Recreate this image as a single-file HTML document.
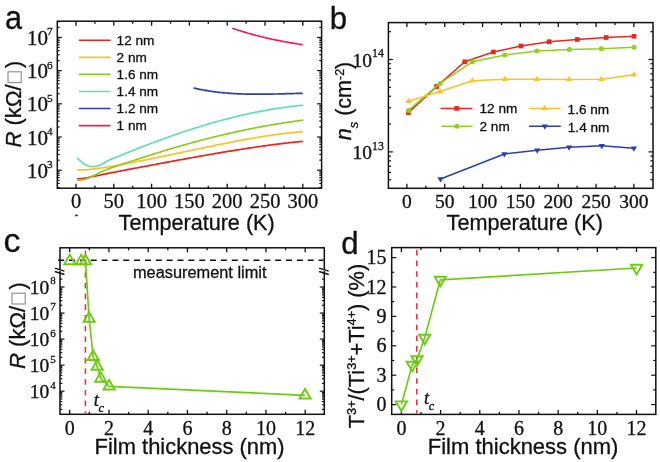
<!DOCTYPE html>
<html><head><meta charset="utf-8"><style>
html,body{margin:0;padding:0;background:#fff;width:660px;height:462px;overflow:hidden}
svg{display:block;filter:blur(0.35px)}
text{fill:#111;stroke:#111;stroke-width:0.3px}
</style></head><body>
<svg width="660" height="462" viewBox="0 0 660 462">
<rect width="660" height="462" fill="#fff"/>
<text transform="translate(4.9,28.9) scale(0.93,1)" style="font-family:'Liberation Sans',sans-serif;font-size:33px">a</text>
<rect x="57.3" y="21.2" width="264.30" height="167.00" fill="none" stroke="#111" stroke-width="1.5"/>
<line x1="76.00" y1="188.2" x2="76.00" y2="183.7" stroke="#111" stroke-width="1.3"/>
<line x1="76.00" y1="21.2" x2="76.00" y2="25.7" stroke="#111" stroke-width="1.3"/>
<line x1="113.80" y1="188.2" x2="113.80" y2="183.7" stroke="#111" stroke-width="1.3"/>
<line x1="113.80" y1="21.2" x2="113.80" y2="25.7" stroke="#111" stroke-width="1.3"/>
<line x1="151.60" y1="188.2" x2="151.60" y2="183.7" stroke="#111" stroke-width="1.3"/>
<line x1="151.60" y1="21.2" x2="151.60" y2="25.7" stroke="#111" stroke-width="1.3"/>
<line x1="189.40" y1="188.2" x2="189.40" y2="183.7" stroke="#111" stroke-width="1.3"/>
<line x1="189.40" y1="21.2" x2="189.40" y2="25.7" stroke="#111" stroke-width="1.3"/>
<line x1="227.20" y1="188.2" x2="227.20" y2="183.7" stroke="#111" stroke-width="1.3"/>
<line x1="227.20" y1="21.2" x2="227.20" y2="25.7" stroke="#111" stroke-width="1.3"/>
<line x1="265.00" y1="188.2" x2="265.00" y2="183.7" stroke="#111" stroke-width="1.3"/>
<line x1="265.00" y1="21.2" x2="265.00" y2="25.7" stroke="#111" stroke-width="1.3"/>
<line x1="302.80" y1="188.2" x2="302.80" y2="183.7" stroke="#111" stroke-width="1.3"/>
<line x1="302.80" y1="21.2" x2="302.80" y2="25.7" stroke="#111" stroke-width="1.3"/>
<line x1="94.90" y1="188.2" x2="94.90" y2="185.7" stroke="#111" stroke-width="1.3"/>
<line x1="94.90" y1="21.2" x2="94.90" y2="23.7" stroke="#111" stroke-width="1.3"/>
<line x1="132.70" y1="188.2" x2="132.70" y2="185.7" stroke="#111" stroke-width="1.3"/>
<line x1="132.70" y1="21.2" x2="132.70" y2="23.7" stroke="#111" stroke-width="1.3"/>
<line x1="170.50" y1="188.2" x2="170.50" y2="185.7" stroke="#111" stroke-width="1.3"/>
<line x1="170.50" y1="21.2" x2="170.50" y2="23.7" stroke="#111" stroke-width="1.3"/>
<line x1="208.30" y1="188.2" x2="208.30" y2="185.7" stroke="#111" stroke-width="1.3"/>
<line x1="208.30" y1="21.2" x2="208.30" y2="23.7" stroke="#111" stroke-width="1.3"/>
<line x1="246.10" y1="188.2" x2="246.10" y2="185.7" stroke="#111" stroke-width="1.3"/>
<line x1="246.10" y1="21.2" x2="246.10" y2="23.7" stroke="#111" stroke-width="1.3"/>
<line x1="283.90" y1="188.2" x2="283.90" y2="185.7" stroke="#111" stroke-width="1.3"/>
<line x1="283.90" y1="21.2" x2="283.90" y2="23.7" stroke="#111" stroke-width="1.3"/>
<line x1="57.3" y1="170.20" x2="61.8" y2="170.20" stroke="#111" stroke-width="1.2"/>
<line x1="321.6" y1="170.20" x2="317.1" y2="170.20" stroke="#111" stroke-width="1.2"/>
<line x1="57.3" y1="137.00" x2="61.8" y2="137.00" stroke="#111" stroke-width="1.2"/>
<line x1="321.6" y1="137.00" x2="317.1" y2="137.00" stroke="#111" stroke-width="1.2"/>
<line x1="57.3" y1="103.80" x2="61.8" y2="103.80" stroke="#111" stroke-width="1.2"/>
<line x1="321.6" y1="103.80" x2="317.1" y2="103.80" stroke="#111" stroke-width="1.2"/>
<line x1="57.3" y1="70.60" x2="61.8" y2="70.60" stroke="#111" stroke-width="1.2"/>
<line x1="321.6" y1="70.60" x2="317.1" y2="70.60" stroke="#111" stroke-width="1.2"/>
<line x1="57.3" y1="37.40" x2="61.8" y2="37.40" stroke="#111" stroke-width="1.2"/>
<line x1="321.6" y1="37.40" x2="317.1" y2="37.40" stroke="#111" stroke-width="1.2"/>
<line x1="57.3" y1="187.56" x2="59.599999999999994" y2="187.56" stroke="#111" stroke-width="1.2"/>
<line x1="321.6" y1="187.56" x2="319.3" y2="187.56" stroke="#111" stroke-width="1.2"/>
<line x1="57.3" y1="183.41" x2="59.599999999999994" y2="183.41" stroke="#111" stroke-width="1.2"/>
<line x1="321.6" y1="183.41" x2="319.3" y2="183.41" stroke="#111" stroke-width="1.2"/>
<line x1="57.3" y1="180.19" x2="59.599999999999994" y2="180.19" stroke="#111" stroke-width="1.2"/>
<line x1="321.6" y1="180.19" x2="319.3" y2="180.19" stroke="#111" stroke-width="1.2"/>
<line x1="57.3" y1="177.57" x2="59.599999999999994" y2="177.57" stroke="#111" stroke-width="1.2"/>
<line x1="321.6" y1="177.57" x2="319.3" y2="177.57" stroke="#111" stroke-width="1.2"/>
<line x1="57.3" y1="175.34" x2="59.599999999999994" y2="175.34" stroke="#111" stroke-width="1.2"/>
<line x1="321.6" y1="175.34" x2="319.3" y2="175.34" stroke="#111" stroke-width="1.2"/>
<line x1="57.3" y1="173.42" x2="59.599999999999994" y2="173.42" stroke="#111" stroke-width="1.2"/>
<line x1="321.6" y1="173.42" x2="319.3" y2="173.42" stroke="#111" stroke-width="1.2"/>
<line x1="57.3" y1="171.72" x2="59.599999999999994" y2="171.72" stroke="#111" stroke-width="1.2"/>
<line x1="321.6" y1="171.72" x2="319.3" y2="171.72" stroke="#111" stroke-width="1.2"/>
<line x1="57.3" y1="160.21" x2="59.599999999999994" y2="160.21" stroke="#111" stroke-width="1.2"/>
<line x1="321.6" y1="160.21" x2="319.3" y2="160.21" stroke="#111" stroke-width="1.2"/>
<line x1="57.3" y1="154.36" x2="59.599999999999994" y2="154.36" stroke="#111" stroke-width="1.2"/>
<line x1="321.6" y1="154.36" x2="319.3" y2="154.36" stroke="#111" stroke-width="1.2"/>
<line x1="57.3" y1="150.21" x2="59.599999999999994" y2="150.21" stroke="#111" stroke-width="1.2"/>
<line x1="321.6" y1="150.21" x2="319.3" y2="150.21" stroke="#111" stroke-width="1.2"/>
<line x1="57.3" y1="146.99" x2="59.599999999999994" y2="146.99" stroke="#111" stroke-width="1.2"/>
<line x1="321.6" y1="146.99" x2="319.3" y2="146.99" stroke="#111" stroke-width="1.2"/>
<line x1="57.3" y1="144.37" x2="59.599999999999994" y2="144.37" stroke="#111" stroke-width="1.2"/>
<line x1="321.6" y1="144.37" x2="319.3" y2="144.37" stroke="#111" stroke-width="1.2"/>
<line x1="57.3" y1="142.14" x2="59.599999999999994" y2="142.14" stroke="#111" stroke-width="1.2"/>
<line x1="321.6" y1="142.14" x2="319.3" y2="142.14" stroke="#111" stroke-width="1.2"/>
<line x1="57.3" y1="140.22" x2="59.599999999999994" y2="140.22" stroke="#111" stroke-width="1.2"/>
<line x1="321.6" y1="140.22" x2="319.3" y2="140.22" stroke="#111" stroke-width="1.2"/>
<line x1="57.3" y1="138.52" x2="59.599999999999994" y2="138.52" stroke="#111" stroke-width="1.2"/>
<line x1="321.6" y1="138.52" x2="319.3" y2="138.52" stroke="#111" stroke-width="1.2"/>
<line x1="57.3" y1="127.01" x2="59.599999999999994" y2="127.01" stroke="#111" stroke-width="1.2"/>
<line x1="321.6" y1="127.01" x2="319.3" y2="127.01" stroke="#111" stroke-width="1.2"/>
<line x1="57.3" y1="121.16" x2="59.599999999999994" y2="121.16" stroke="#111" stroke-width="1.2"/>
<line x1="321.6" y1="121.16" x2="319.3" y2="121.16" stroke="#111" stroke-width="1.2"/>
<line x1="57.3" y1="117.01" x2="59.599999999999994" y2="117.01" stroke="#111" stroke-width="1.2"/>
<line x1="321.6" y1="117.01" x2="319.3" y2="117.01" stroke="#111" stroke-width="1.2"/>
<line x1="57.3" y1="113.79" x2="59.599999999999994" y2="113.79" stroke="#111" stroke-width="1.2"/>
<line x1="321.6" y1="113.79" x2="319.3" y2="113.79" stroke="#111" stroke-width="1.2"/>
<line x1="57.3" y1="111.17" x2="59.599999999999994" y2="111.17" stroke="#111" stroke-width="1.2"/>
<line x1="321.6" y1="111.17" x2="319.3" y2="111.17" stroke="#111" stroke-width="1.2"/>
<line x1="57.3" y1="108.94" x2="59.599999999999994" y2="108.94" stroke="#111" stroke-width="1.2"/>
<line x1="321.6" y1="108.94" x2="319.3" y2="108.94" stroke="#111" stroke-width="1.2"/>
<line x1="57.3" y1="107.02" x2="59.599999999999994" y2="107.02" stroke="#111" stroke-width="1.2"/>
<line x1="321.6" y1="107.02" x2="319.3" y2="107.02" stroke="#111" stroke-width="1.2"/>
<line x1="57.3" y1="105.32" x2="59.599999999999994" y2="105.32" stroke="#111" stroke-width="1.2"/>
<line x1="321.6" y1="105.32" x2="319.3" y2="105.32" stroke="#111" stroke-width="1.2"/>
<line x1="57.3" y1="93.81" x2="59.599999999999994" y2="93.81" stroke="#111" stroke-width="1.2"/>
<line x1="321.6" y1="93.81" x2="319.3" y2="93.81" stroke="#111" stroke-width="1.2"/>
<line x1="57.3" y1="87.96" x2="59.599999999999994" y2="87.96" stroke="#111" stroke-width="1.2"/>
<line x1="321.6" y1="87.96" x2="319.3" y2="87.96" stroke="#111" stroke-width="1.2"/>
<line x1="57.3" y1="83.81" x2="59.599999999999994" y2="83.81" stroke="#111" stroke-width="1.2"/>
<line x1="321.6" y1="83.81" x2="319.3" y2="83.81" stroke="#111" stroke-width="1.2"/>
<line x1="57.3" y1="80.59" x2="59.599999999999994" y2="80.59" stroke="#111" stroke-width="1.2"/>
<line x1="321.6" y1="80.59" x2="319.3" y2="80.59" stroke="#111" stroke-width="1.2"/>
<line x1="57.3" y1="77.97" x2="59.599999999999994" y2="77.97" stroke="#111" stroke-width="1.2"/>
<line x1="321.6" y1="77.97" x2="319.3" y2="77.97" stroke="#111" stroke-width="1.2"/>
<line x1="57.3" y1="75.74" x2="59.599999999999994" y2="75.74" stroke="#111" stroke-width="1.2"/>
<line x1="321.6" y1="75.74" x2="319.3" y2="75.74" stroke="#111" stroke-width="1.2"/>
<line x1="57.3" y1="73.82" x2="59.599999999999994" y2="73.82" stroke="#111" stroke-width="1.2"/>
<line x1="321.6" y1="73.82" x2="319.3" y2="73.82" stroke="#111" stroke-width="1.2"/>
<line x1="57.3" y1="72.12" x2="59.599999999999994" y2="72.12" stroke="#111" stroke-width="1.2"/>
<line x1="321.6" y1="72.12" x2="319.3" y2="72.12" stroke="#111" stroke-width="1.2"/>
<line x1="57.3" y1="60.61" x2="59.599999999999994" y2="60.61" stroke="#111" stroke-width="1.2"/>
<line x1="321.6" y1="60.61" x2="319.3" y2="60.61" stroke="#111" stroke-width="1.2"/>
<line x1="57.3" y1="54.76" x2="59.599999999999994" y2="54.76" stroke="#111" stroke-width="1.2"/>
<line x1="321.6" y1="54.76" x2="319.3" y2="54.76" stroke="#111" stroke-width="1.2"/>
<line x1="57.3" y1="50.61" x2="59.599999999999994" y2="50.61" stroke="#111" stroke-width="1.2"/>
<line x1="321.6" y1="50.61" x2="319.3" y2="50.61" stroke="#111" stroke-width="1.2"/>
<line x1="57.3" y1="47.39" x2="59.599999999999994" y2="47.39" stroke="#111" stroke-width="1.2"/>
<line x1="321.6" y1="47.39" x2="319.3" y2="47.39" stroke="#111" stroke-width="1.2"/>
<line x1="57.3" y1="44.77" x2="59.599999999999994" y2="44.77" stroke="#111" stroke-width="1.2"/>
<line x1="321.6" y1="44.77" x2="319.3" y2="44.77" stroke="#111" stroke-width="1.2"/>
<line x1="57.3" y1="42.54" x2="59.599999999999994" y2="42.54" stroke="#111" stroke-width="1.2"/>
<line x1="321.6" y1="42.54" x2="319.3" y2="42.54" stroke="#111" stroke-width="1.2"/>
<line x1="57.3" y1="40.62" x2="59.599999999999994" y2="40.62" stroke="#111" stroke-width="1.2"/>
<line x1="321.6" y1="40.62" x2="319.3" y2="40.62" stroke="#111" stroke-width="1.2"/>
<line x1="57.3" y1="38.92" x2="59.599999999999994" y2="38.92" stroke="#111" stroke-width="1.2"/>
<line x1="321.6" y1="38.92" x2="319.3" y2="38.92" stroke="#111" stroke-width="1.2"/>
<line x1="57.3" y1="27.41" x2="59.599999999999994" y2="27.41" stroke="#111" stroke-width="1.2"/>
<line x1="321.6" y1="27.41" x2="319.3" y2="27.41" stroke="#111" stroke-width="1.2"/>
<line x1="57.3" y1="21.56" x2="59.599999999999994" y2="21.56" stroke="#111" stroke-width="1.2"/>
<line x1="321.6" y1="21.56" x2="319.3" y2="21.56" stroke="#111" stroke-width="1.2"/>
<text x="48.00" y="177.70" style="font-family:'Liberation Serif',serif;font-size:21px" text-anchor="end">10</text>
<text x="46.90" y="168.20" style="font-family:'Liberation Serif',serif;font-size:11.2px">3</text>
<text x="48.00" y="144.50" style="font-family:'Liberation Serif',serif;font-size:21px" text-anchor="end">10</text>
<text x="46.90" y="135.00" style="font-family:'Liberation Serif',serif;font-size:11.2px">4</text>
<text x="48.00" y="111.30" style="font-family:'Liberation Serif',serif;font-size:21px" text-anchor="end">10</text>
<text x="46.90" y="101.80" style="font-family:'Liberation Serif',serif;font-size:11.2px">5</text>
<text x="48.00" y="78.10" style="font-family:'Liberation Serif',serif;font-size:21px" text-anchor="end">10</text>
<text x="46.90" y="68.60" style="font-family:'Liberation Serif',serif;font-size:11.2px">6</text>
<text x="48.00" y="44.90" style="font-family:'Liberation Serif',serif;font-size:21px" text-anchor="end">10</text>
<text x="46.90" y="35.40" style="font-family:'Liberation Serif',serif;font-size:11.2px">7</text>
<text x="76.00" y="207.6" style="font-family:'Liberation Serif',serif;font-size:20.5px" text-anchor="middle" >0</text>
<text x="113.80" y="207.6" style="font-family:'Liberation Serif',serif;font-size:20.5px" text-anchor="middle" >50</text>
<text x="151.60" y="207.6" style="font-family:'Liberation Serif',serif;font-size:20.5px" text-anchor="middle" >100</text>
<text x="189.40" y="207.6" style="font-family:'Liberation Serif',serif;font-size:20.5px" text-anchor="middle" >150</text>
<text x="227.20" y="207.6" style="font-family:'Liberation Serif',serif;font-size:20.5px" text-anchor="middle" >200</text>
<text x="265.00" y="207.6" style="font-family:'Liberation Serif',serif;font-size:20.5px" text-anchor="middle" >250</text>
<text x="302.80" y="207.6" style="font-family:'Liberation Serif',serif;font-size:20.5px" text-anchor="middle" >300</text>
<text x="118.6" y="230.3" style="font-family:'Liberation Sans',sans-serif;font-size:21.9px" textLength="156.1" lengthAdjust="spacingAndGlyphs">Temperature (K)</text>
<g transform="translate(21.3,147.6) rotate(-90)"><text x="0" y="0" style="font-family:'Liberation Sans',sans-serif;font-size:21.3px" textLength="63.2" lengthAdjust="spacingAndGlyphs"><tspan font-style="italic">R</tspan> (kΩ/</text><text x="79.5" y="0" style="font-family:'Liberation Sans',sans-serif;font-size:21.5px">)</text></g>
<rect x="8.0" y="71.8" width="13.2" height="10.8" fill="none" stroke="#8a8a8a" stroke-width="1.1"/>
<line x1="78.8" y1="40.30" x2="110.5" y2="40.30" stroke="#e8251f" stroke-width="1.6"/>
<text x="116.6" y="45.05" style="font-family:'Liberation Sans',sans-serif;font-size:13.6px" text-anchor="start" >12 nm</text>
<line x1="78.8" y1="57.36" x2="110.5" y2="57.36" stroke="#fcc02a" stroke-width="1.6"/>
<text x="116.6" y="62.11" style="font-family:'Liberation Sans',sans-serif;font-size:13.6px" text-anchor="start" >2 nm</text>
<line x1="78.8" y1="74.42" x2="110.5" y2="74.42" stroke="#8ccb1e" stroke-width="1.6"/>
<text x="116.6" y="79.17" style="font-family:'Liberation Sans',sans-serif;font-size:13.6px" text-anchor="start" >1.6 nm</text>
<line x1="78.8" y1="91.48" x2="110.5" y2="91.48" stroke="#5fdfb4" stroke-width="1.6"/>
<text x="116.6" y="96.23" style="font-family:'Liberation Sans',sans-serif;font-size:13.6px" text-anchor="start" >1.4 nm</text>
<line x1="78.8" y1="108.54" x2="110.5" y2="108.54" stroke="#2a3ea6" stroke-width="1.6"/>
<text x="116.6" y="113.29" style="font-family:'Liberation Sans',sans-serif;font-size:13.6px" text-anchor="start" >1.2 nm</text>
<line x1="78.8" y1="125.60" x2="110.5" y2="125.60" stroke="#ee1e5c" stroke-width="1.6"/>
<text x="116.6" y="130.35" style="font-family:'Liberation Sans',sans-serif;font-size:13.6px" text-anchor="start" >1 nm</text>
<polyline points="77.0,178.9 78.0,178.8 79.0,178.8 80.0,178.7 81.0,178.6 82.0,178.5 83.0,178.4 84.0,178.3 85.0,178.1 86.0,177.9 87.0,177.8 88.0,177.6 89.0,177.4 90.0,177.2 91.0,177.0 92.0,176.7 93.0,176.5 94.0,176.3 95.0,176.1 96.0,175.9 97.0,175.7 98.0,175.5 99.0,175.3 100.0,175.1 101.0,174.9 102.0,174.6 103.0,174.4 104.0,174.2 105.0,174.0 106.0,173.8 107.0,173.6 108.0,173.4 109.0,173.2 110.0,173.0 111.0,172.8 112.0,172.6 113.0,172.4 114.0,172.3 115.0,172.1 116.0,171.9 117.0,171.7 118.0,171.5 119.0,171.3 120.0,171.1 121.0,170.9 122.0,170.7 123.0,170.5 124.0,170.3 125.0,170.1 126.0,169.9 127.0,169.7 128.0,169.6 129.0,169.4 130.0,169.2 131.0,169.0 132.0,168.8 133.0,168.6 134.0,168.4 135.0,168.2 136.0,168.0 137.0,167.9 138.0,167.7 139.0,167.5 140.0,167.3 141.0,167.1 142.0,166.9 143.0,166.7 144.0,166.5 145.0,166.3 146.0,166.2 147.0,166.0 148.0,165.8 149.0,165.6 150.0,165.4 151.0,165.2 152.0,165.0 153.0,164.8 154.0,164.7 155.0,164.5 156.0,164.3 157.0,164.1 158.0,163.9 159.0,163.7 160.0,163.5 161.0,163.3 162.0,163.2 163.0,163.0 164.0,162.8 165.0,162.6 166.0,162.4 167.0,162.2 168.0,162.1 169.0,161.9 170.0,161.7 171.0,161.5 172.0,161.3 173.0,161.1 174.0,160.9 175.0,160.8 176.0,160.6 177.0,160.4 178.0,160.2 179.0,160.0 180.0,159.8 181.0,159.7 182.0,159.5 183.0,159.3 184.0,159.1 185.0,158.9 186.0,158.8 187.0,158.6 188.0,158.4 189.0,158.2 190.0,158.0 191.0,157.8 192.0,157.7 193.0,157.5 194.0,157.3 195.0,157.1 196.0,157.0 197.0,156.8 198.0,156.6 199.0,156.4 200.0,156.2 201.0,156.1 202.0,155.9 203.0,155.7 204.0,155.5 205.0,155.4 206.0,155.2 207.0,155.0 208.0,154.8 209.0,154.7 210.0,154.5 211.0,154.3 212.0,154.1 213.0,154.0 214.0,153.8 215.0,153.6 216.0,153.4 217.0,153.3 218.0,153.1 219.0,152.9 220.0,152.8 221.0,152.6 222.0,152.4 223.0,152.2 224.0,152.1 225.0,151.9 226.0,151.7 227.0,151.6 228.0,151.4 229.0,151.2 230.0,151.1 231.0,150.9 232.0,150.8 233.0,150.6 234.0,150.4 235.0,150.3 236.0,150.1 237.0,149.9 238.0,149.8 239.0,149.6 240.0,149.5 241.0,149.3 242.0,149.2 243.0,149.0 244.0,148.8 245.0,148.7 246.0,148.5 247.0,148.4 248.0,148.2 249.0,148.1 250.0,147.9 251.0,147.8 252.0,147.6 253.0,147.5 254.0,147.3 255.0,147.2 256.0,147.0 257.0,146.9 258.0,146.8 259.0,146.6 260.0,146.5 261.0,146.3 262.0,146.2 263.0,146.0 264.0,145.9 265.0,145.8 266.0,145.6 267.0,145.5 268.0,145.4 269.0,145.2 270.0,145.1 271.0,145.0 272.0,144.8 273.0,144.7 274.0,144.6 275.0,144.4 276.0,144.3 277.0,144.2 278.0,144.1 279.0,143.9 280.0,143.8 281.0,143.7 282.0,143.6 283.0,143.4 284.0,143.3 285.0,143.2 286.0,143.1 287.0,143.0 288.0,142.9 289.0,142.7 290.0,142.6 291.0,142.5 292.0,142.4 293.0,142.3 294.0,142.2 295.0,142.1 296.0,142.0 297.0,141.9 298.0,141.8 299.0,141.7 300.0,141.6 301.0,141.5 302.0,141.4 302.9,141.3" fill="none" stroke="#e8251f" stroke-width="1.7" stroke-linejoin="round" stroke-linecap="butt"/>
<polyline points="77.0,169.7 78.0,169.8 79.0,169.8 80.0,169.9 81.0,169.9 82.0,169.9 83.0,169.9 84.0,169.8 85.0,169.8 86.0,169.7 87.0,169.7 88.0,169.6 89.0,169.5 90.0,169.4 91.0,169.3 92.0,169.2 93.0,169.0 94.0,168.9 95.0,168.8 96.0,168.7 97.0,168.5 98.0,168.4 99.0,168.3 100.0,168.1 101.0,168.0 102.0,167.8 103.0,167.7 104.0,167.5 105.0,167.4 106.0,167.2 107.0,167.0 108.0,166.9 109.0,166.7 110.0,166.5 111.0,166.4 112.0,166.2 113.0,166.0 114.0,165.9 115.0,165.7 116.0,165.5 117.0,165.3 118.0,165.2 119.0,165.0 120.0,164.8 121.0,164.6 122.0,164.4 123.0,164.2 124.0,164.0 125.0,163.9 126.0,163.7 127.0,163.5 128.0,163.3 129.0,163.1 130.0,162.9 131.0,162.7 132.0,162.5 133.0,162.3 134.0,162.1 135.0,161.9 136.0,161.7 137.0,161.5 138.0,161.4 139.0,161.2 140.0,161.0 141.0,160.8 142.0,160.6 143.0,160.4 144.0,160.2 145.0,160.0 146.0,159.8 147.0,159.6 148.0,159.4 149.0,159.2 150.0,159.0 151.0,158.8 152.0,158.6 153.0,158.4 154.0,158.2 155.0,158.0 156.0,157.8 157.0,157.5 158.0,157.3 159.0,157.1 160.0,156.9 161.0,156.7 162.0,156.5 163.0,156.3 164.0,156.1 165.0,155.9 166.0,155.7 167.0,155.5 168.0,155.3 169.0,155.1 170.0,154.9 171.0,154.7 172.0,154.5 173.0,154.2 174.0,154.0 175.0,153.8 176.0,153.6 177.0,153.4 178.0,153.2 179.0,153.0 180.0,152.8 181.0,152.6 182.0,152.4 183.0,152.2 184.0,151.9 185.0,151.7 186.0,151.5 187.0,151.3 188.0,151.1 189.0,150.9 190.0,150.7 191.0,150.5 192.0,150.3 193.0,150.0 194.0,149.8 195.0,149.6 196.0,149.4 197.0,149.2 198.0,149.0 199.0,148.8 200.0,148.6 201.0,148.4 202.0,148.1 203.0,147.9 204.0,147.7 205.0,147.5 206.0,147.3 207.0,147.1 208.0,146.9 209.0,146.7 210.0,146.5 211.0,146.3 212.0,146.1 213.0,145.9 214.0,145.6 215.0,145.4 216.0,145.2 217.0,145.0 218.0,144.8 219.0,144.6 220.0,144.4 221.0,144.2 222.0,144.0 223.0,143.8 224.0,143.6 225.0,143.4 226.0,143.2 227.0,143.0 228.0,142.8 229.0,142.6 230.0,142.4 231.0,142.2 232.0,142.0 233.0,141.8 234.0,141.6 235.0,141.4 236.0,141.2 237.0,141.1 238.0,140.9 239.0,140.7 240.0,140.5 241.0,140.3 242.0,140.1 243.0,139.9 244.0,139.7 245.0,139.6 246.0,139.4 247.0,139.2 248.0,139.0 249.0,138.8 250.0,138.7 251.0,138.5 252.0,138.3 253.0,138.1 254.0,138.0 255.0,137.8 256.0,137.6 257.0,137.5 258.0,137.3 259.0,137.1 260.0,137.0 261.0,136.8 262.0,136.6 263.0,136.5 264.0,136.3 265.0,136.2 266.0,136.0 267.0,135.9 268.0,135.7 269.0,135.6 270.0,135.4 271.0,135.3 272.0,135.1 273.0,135.0 274.0,134.8 275.0,134.7 276.0,134.5 277.0,134.4 278.0,134.3 279.0,134.1 280.0,134.0 281.0,133.9 282.0,133.8 283.0,133.6 284.0,133.5 285.0,133.4 286.0,133.3 287.0,133.1 288.0,133.0 289.0,132.9 290.0,132.8 291.0,132.7 292.0,132.6 293.0,132.5 294.0,132.4 295.0,132.3 296.0,132.2 297.0,132.1 298.0,132.0 299.0,131.9 300.0,131.8 301.0,131.7 302.0,131.6 302.9,131.6" fill="none" stroke="#fcc02a" stroke-width="1.7" stroke-linejoin="round" stroke-linecap="butt"/>
<polyline points="77.0,179.9 78.0,180.0 79.0,180.1 80.0,180.1 81.0,180.0 82.0,179.9 83.0,179.7 84.0,179.5 85.0,179.2 86.0,178.9 87.0,178.5 88.0,178.1 89.0,177.7 90.0,177.3 91.0,176.8 92.0,176.3 93.0,175.9 94.0,175.4 95.0,174.9 96.0,174.4 97.0,173.9 98.0,173.4 99.0,172.9 100.0,172.5 101.0,172.0 102.0,171.5 103.0,171.1 104.0,170.6 105.0,170.2 106.0,169.8 107.0,169.4 108.0,169.0 109.0,168.7 110.0,168.3 111.0,167.9 112.0,167.6 113.0,167.3 114.0,166.9 115.0,166.6 116.0,166.2 117.0,165.9 118.0,165.6 119.0,165.3 120.0,164.9 121.0,164.6 122.0,164.3 123.0,163.9 124.0,163.6 125.0,163.3 126.0,163.0 127.0,162.6 128.0,162.3 129.0,162.0 130.0,161.6 131.0,161.3 132.0,161.0 133.0,160.7 134.0,160.3 135.0,160.0 136.0,159.7 137.0,159.4 138.0,159.0 139.0,158.7 140.0,158.4 141.0,158.1 142.0,157.7 143.0,157.4 144.0,157.1 145.0,156.8 146.0,156.5 147.0,156.1 148.0,155.8 149.0,155.5 150.0,155.2 151.0,154.9 152.0,154.6 153.0,154.2 154.0,153.9 155.0,153.6 156.0,153.3 157.0,153.0 158.0,152.7 159.0,152.4 160.0,152.1 161.0,151.7 162.0,151.4 163.0,151.1 164.0,150.8 165.0,150.5 166.0,150.2 167.0,149.9 168.0,149.6 169.0,149.3 170.0,149.0 171.0,148.7 172.0,148.4 173.0,148.1 174.0,147.8 175.0,147.5 176.0,147.2 177.0,146.9 178.0,146.7 179.0,146.4 180.0,146.1 181.0,145.8 182.0,145.5 183.0,145.2 184.0,144.9 185.0,144.6 186.0,144.4 187.0,144.1 188.0,143.8 189.0,143.5 190.0,143.3 191.0,143.0 192.0,142.7 193.0,142.4 194.0,142.2 195.0,141.9 196.0,141.6 197.0,141.3 198.0,141.1 199.0,140.8 200.0,140.6 201.0,140.3 202.0,140.0 203.0,139.8 204.0,139.5 205.0,139.2 206.0,139.0 207.0,138.7 208.0,138.5 209.0,138.2 210.0,138.0 211.0,137.7 212.0,137.5 213.0,137.2 214.0,137.0 215.0,136.7 216.0,136.5 217.0,136.2 218.0,136.0 219.0,135.8 220.0,135.5 221.0,135.3 222.0,135.0 223.0,134.8 224.0,134.6 225.0,134.3 226.0,134.1 227.0,133.9 228.0,133.6 229.0,133.4 230.0,133.2 231.0,133.0 232.0,132.7 233.0,132.5 234.0,132.3 235.0,132.1 236.0,131.9 237.0,131.6 238.0,131.4 239.0,131.2 240.0,131.0 241.0,130.8 242.0,130.6 243.0,130.3 244.0,130.1 245.0,129.9 246.0,129.7 247.0,129.5 248.0,129.3 249.0,129.1 250.0,128.9 251.0,128.7 252.0,128.5 253.0,128.3 254.0,128.1 255.0,127.9 256.0,127.7 257.0,127.5 258.0,127.3 259.0,127.2 260.0,127.0 261.0,126.8 262.0,126.6 263.0,126.4 264.0,126.2 265.0,126.0 266.0,125.9 267.0,125.7 268.0,125.5 269.0,125.3 270.0,125.1 271.0,125.0 272.0,124.8 273.0,124.6 274.0,124.5 275.0,124.3 276.0,124.1 277.0,124.0 278.0,123.8 279.0,123.6 280.0,123.5 281.0,123.3 282.0,123.1 283.0,123.0 284.0,122.8 285.0,122.7 286.0,122.5 287.0,122.4 288.0,122.2 289.0,122.1 290.0,121.9 291.0,121.8 292.0,121.6 293.0,121.5 294.0,121.3 295.0,121.2 296.0,121.0 297.0,120.9 298.0,120.8 299.0,120.6 300.0,120.5 301.0,120.4 302.0,120.2 302.9,120.1" fill="none" stroke="#8ccb1e" stroke-width="1.7" stroke-linejoin="round" stroke-linecap="butt"/>
<polyline points="77.0,157.7 78.0,158.8 79.0,159.8 80.0,160.7 81.0,161.6 82.0,162.4 83.0,163.1 84.0,163.8 85.0,164.4 86.0,164.9 87.0,165.3 88.0,165.7 89.0,166.1 90.0,166.3 91.0,166.5 92.0,166.6 93.0,166.6 94.0,166.6 95.0,166.5 96.0,166.3 97.0,166.1 98.0,165.8 99.0,165.4 100.0,165.0 101.0,164.5 102.0,164.0 103.0,163.4 104.0,162.9 105.0,162.3 106.0,161.7 107.0,161.2 108.0,160.7 109.0,160.2 110.0,159.8 111.0,159.3 112.0,158.9 113.0,158.5 114.0,158.1 115.0,157.7 116.0,157.3 117.0,156.9 118.0,156.5 119.0,156.1 120.0,155.7 121.0,155.3 122.0,154.9 123.0,154.5 124.0,154.1 125.0,153.7 126.0,153.2 127.0,152.8 128.0,152.4 129.0,152.0 130.0,151.6 131.0,151.2 132.0,150.8 133.0,150.4 134.0,150.0 135.0,149.6 136.0,149.3 137.0,148.9 138.0,148.5 139.0,148.1 140.0,147.7 141.0,147.3 142.0,146.9 143.0,146.5 144.0,146.1 145.0,145.7 146.0,145.3 147.0,145.0 148.0,144.6 149.0,144.2 150.0,143.8 151.0,143.4 152.0,143.0 153.0,142.7 154.0,142.3 155.0,141.9 156.0,141.6 157.0,141.2 158.0,140.8 159.0,140.4 160.0,140.1 161.0,139.7 162.0,139.3 163.0,139.0 164.0,138.6 165.0,138.3 166.0,137.9 167.0,137.5 168.0,137.2 169.0,136.8 170.0,136.5 171.0,136.1 172.0,135.8 173.0,135.4 174.0,135.1 175.0,134.7 176.0,134.4 177.0,134.0 178.0,133.7 179.0,133.4 180.0,133.0 181.0,132.7 182.0,132.3 183.0,132.0 184.0,131.7 185.0,131.3 186.0,131.0 187.0,130.7 188.0,130.4 189.0,130.0 190.0,129.7 191.0,129.4 192.0,129.1 193.0,128.7 194.0,128.4 195.0,128.1 196.0,127.8 197.0,127.5 198.0,127.2 199.0,126.9 200.0,126.6 201.0,126.3 202.0,125.9 203.0,125.6 204.0,125.3 205.0,125.0 206.0,124.7 207.0,124.4 208.0,124.2 209.0,123.9 210.0,123.6 211.0,123.3 212.0,123.0 213.0,122.7 214.0,122.4 215.0,122.1 216.0,121.9 217.0,121.6 218.0,121.3 219.0,121.0 220.0,120.8 221.0,120.5 222.0,120.2 223.0,119.9 224.0,119.7 225.0,119.4 226.0,119.2 227.0,118.9 228.0,118.6 229.0,118.4 230.0,118.1 231.0,117.9 232.0,117.6 233.0,117.4 234.0,117.1 235.0,116.9 236.0,116.6 237.0,116.4 238.0,116.1 239.0,115.9 240.0,115.7 241.0,115.4 242.0,115.2 243.0,115.0 244.0,114.8 245.0,114.5 246.0,114.3 247.0,114.1 248.0,113.9 249.0,113.6 250.0,113.4 251.0,113.2 252.0,113.0 253.0,112.8 254.0,112.6 255.0,112.4 256.0,112.2 257.0,112.0 258.0,111.8 259.0,111.6 260.0,111.4 261.0,111.2 262.0,111.0 263.0,110.8 264.0,110.6 265.0,110.5 266.0,110.3 267.0,110.1 268.0,109.9 269.0,109.7 270.0,109.6 271.0,109.4 272.0,109.2 273.0,109.1 274.0,108.9 275.0,108.7 276.0,108.6 277.0,108.4 278.0,108.3 279.0,108.1 280.0,108.0 281.0,107.8 282.0,107.7 283.0,107.5 284.0,107.4 285.0,107.3 286.0,107.1 287.0,107.0 288.0,106.9 289.0,106.7 290.0,106.6 291.0,106.5 292.0,106.4 293.0,106.3 294.0,106.1 295.0,106.0 296.0,105.9 297.0,105.8 298.0,105.7 299.0,105.6 300.0,105.5 301.0,105.4 302.0,105.3 302.9,105.2" fill="none" stroke="#5fdfb4" stroke-width="1.7" stroke-linejoin="round" stroke-linecap="butt"/>
<polyline points="193.5,88.0 194.5,88.2 195.5,88.4 196.5,88.7 197.5,88.9 198.5,89.1 199.5,89.3 200.5,89.5 201.5,89.7 202.5,89.9 203.5,90.0 204.5,90.2 205.5,90.4 206.5,90.6 207.5,90.7 208.5,90.9 209.5,91.0 210.5,91.2 211.5,91.3 212.5,91.5 213.5,91.6 214.5,91.8 215.5,91.9 216.5,92.0 217.5,92.1 218.5,92.3 219.5,92.4 220.5,92.5 221.5,92.6 222.5,92.7 223.5,92.8 224.5,92.9 225.5,93.0 226.5,93.0 227.5,93.1 228.5,93.2 229.5,93.3 230.5,93.4 231.5,93.4 232.5,93.5 233.5,93.6 234.5,93.6 235.5,93.7 236.5,93.7 237.5,93.8 238.5,93.8 239.5,93.9 240.5,93.9 241.5,93.9 242.5,94.0 243.5,94.0 244.5,94.0 245.5,94.1 246.5,94.1 247.5,94.1 248.5,94.1 249.5,94.2 250.5,94.2 251.5,94.2 252.5,94.2 253.5,94.2 254.5,94.2 255.5,94.2 256.5,94.2 257.5,94.2 258.5,94.2 259.5,94.2 260.5,94.2 261.5,94.2 262.5,94.2 263.5,94.2 264.5,94.2 265.5,94.2 266.5,94.2 267.5,94.2 268.5,94.1 269.5,94.1 270.5,94.1 271.5,94.1 272.5,94.1 273.5,94.0 274.5,94.0 275.5,94.0 276.5,94.0 277.5,94.0 278.5,93.9 279.5,93.9 280.5,93.9 281.5,93.9 282.5,93.8 283.5,93.8 284.5,93.8 285.5,93.7 286.5,93.7 287.5,93.7 288.5,93.7 289.5,93.6 290.5,93.6 291.5,93.6 292.5,93.6 293.5,93.5 294.5,93.5 295.5,93.5 296.5,93.4 297.5,93.4 298.5,93.4 299.5,93.4 300.5,93.3 301.5,93.3 302.5,93.3 302.8,93.3" fill="none" stroke="#2a3ea6" stroke-width="1.7" stroke-linejoin="round" stroke-linecap="butt"/>
<polyline points="232.3,28.2 233.3,28.5 234.3,28.9 235.3,29.2 236.3,29.5 237.3,29.9 238.3,30.2 239.3,30.5 240.3,30.8 241.3,31.1 242.3,31.5 243.3,31.8 244.3,32.1 245.3,32.4 246.3,32.7 247.3,33.0 248.3,33.3 249.3,33.5 250.3,33.8 251.3,34.1 252.3,34.4 253.3,34.7 254.3,34.9 255.3,35.2 256.3,35.5 257.3,35.7 258.3,36.0 259.3,36.2 260.3,36.5 261.3,36.7 262.3,37.0 263.3,37.2 264.3,37.5 265.3,37.7 266.3,37.9 267.3,38.2 268.3,38.4 269.3,38.6 270.3,38.8 271.3,39.1 272.3,39.3 273.3,39.5 274.3,39.7 275.3,39.9 276.3,40.1 277.3,40.3 278.3,40.5 279.3,40.7 280.3,40.9 281.3,41.1 282.3,41.3 283.3,41.5 284.3,41.7 285.3,41.9 286.3,42.0 287.3,42.2 288.3,42.4 289.3,42.6 290.3,42.7 291.3,42.9 292.3,43.1 293.3,43.2 294.3,43.4 295.3,43.6 296.3,43.7 297.3,43.9 298.3,44.0 299.3,44.2 300.3,44.3 301.3,44.5 302.3,44.6 302.8,44.7" fill="none" stroke="#ee1e5c" stroke-width="1.7" stroke-linejoin="round" stroke-linecap="butt"/>
<ellipse cx="76.5" cy="215.4" rx="1.3" ry="0.9" fill="#111"/>
<text transform="translate(329.8,29.1) scale(1.0,1)" style="font-family:'Liberation Sans',sans-serif;font-size:31.2px">b</text>
<rect x="388.4" y="22.6" width="264.60" height="165.70" fill="none" stroke="#111" stroke-width="1.5"/>
<line x1="406.90" y1="188.3" x2="406.90" y2="183.8" stroke="#111" stroke-width="1.3"/>
<line x1="406.90" y1="22.6" x2="406.90" y2="27.1" stroke="#111" stroke-width="1.3"/>
<line x1="444.73" y1="188.3" x2="444.73" y2="183.8" stroke="#111" stroke-width="1.3"/>
<line x1="444.73" y1="22.6" x2="444.73" y2="27.1" stroke="#111" stroke-width="1.3"/>
<line x1="482.57" y1="188.3" x2="482.57" y2="183.8" stroke="#111" stroke-width="1.3"/>
<line x1="482.57" y1="22.6" x2="482.57" y2="27.1" stroke="#111" stroke-width="1.3"/>
<line x1="520.40" y1="188.3" x2="520.40" y2="183.8" stroke="#111" stroke-width="1.3"/>
<line x1="520.40" y1="22.6" x2="520.40" y2="27.1" stroke="#111" stroke-width="1.3"/>
<line x1="558.23" y1="188.3" x2="558.23" y2="183.8" stroke="#111" stroke-width="1.3"/>
<line x1="558.23" y1="22.6" x2="558.23" y2="27.1" stroke="#111" stroke-width="1.3"/>
<line x1="596.07" y1="188.3" x2="596.07" y2="183.8" stroke="#111" stroke-width="1.3"/>
<line x1="596.07" y1="22.6" x2="596.07" y2="27.1" stroke="#111" stroke-width="1.3"/>
<line x1="633.90" y1="188.3" x2="633.90" y2="183.8" stroke="#111" stroke-width="1.3"/>
<line x1="633.90" y1="22.6" x2="633.90" y2="27.1" stroke="#111" stroke-width="1.3"/>
<line x1="425.82" y1="188.3" x2="425.82" y2="185.8" stroke="#111" stroke-width="1.3"/>
<line x1="425.82" y1="22.6" x2="425.82" y2="25.1" stroke="#111" stroke-width="1.3"/>
<line x1="463.65" y1="188.3" x2="463.65" y2="185.8" stroke="#111" stroke-width="1.3"/>
<line x1="463.65" y1="22.6" x2="463.65" y2="25.1" stroke="#111" stroke-width="1.3"/>
<line x1="501.48" y1="188.3" x2="501.48" y2="185.8" stroke="#111" stroke-width="1.3"/>
<line x1="501.48" y1="22.6" x2="501.48" y2="25.1" stroke="#111" stroke-width="1.3"/>
<line x1="539.32" y1="188.3" x2="539.32" y2="185.8" stroke="#111" stroke-width="1.3"/>
<line x1="539.32" y1="22.6" x2="539.32" y2="25.1" stroke="#111" stroke-width="1.3"/>
<line x1="577.15" y1="188.3" x2="577.15" y2="185.8" stroke="#111" stroke-width="1.3"/>
<line x1="577.15" y1="22.6" x2="577.15" y2="25.1" stroke="#111" stroke-width="1.3"/>
<line x1="614.98" y1="188.3" x2="614.98" y2="185.8" stroke="#111" stroke-width="1.3"/>
<line x1="614.98" y1="22.6" x2="614.98" y2="25.1" stroke="#111" stroke-width="1.3"/>
<line x1="388.4" y1="151.90" x2="392.9" y2="151.90" stroke="#111" stroke-width="1.2"/>
<line x1="653.0" y1="151.90" x2="648.5" y2="151.90" stroke="#111" stroke-width="1.2"/>
<line x1="388.4" y1="59.50" x2="392.9" y2="59.50" stroke="#111" stroke-width="1.2"/>
<line x1="653.0" y1="59.50" x2="648.5" y2="59.50" stroke="#111" stroke-width="1.2"/>
<line x1="388.4" y1="179.72" x2="391.0" y2="179.72" stroke="#111" stroke-width="1.2"/>
<line x1="653.0" y1="179.72" x2="650.4" y2="179.72" stroke="#111" stroke-width="1.2"/>
<line x1="388.4" y1="172.40" x2="391.0" y2="172.40" stroke="#111" stroke-width="1.2"/>
<line x1="653.0" y1="172.40" x2="650.4" y2="172.40" stroke="#111" stroke-width="1.2"/>
<line x1="388.4" y1="166.21" x2="391.0" y2="166.21" stroke="#111" stroke-width="1.2"/>
<line x1="653.0" y1="166.21" x2="650.4" y2="166.21" stroke="#111" stroke-width="1.2"/>
<line x1="388.4" y1="160.85" x2="391.0" y2="160.85" stroke="#111" stroke-width="1.2"/>
<line x1="653.0" y1="160.85" x2="650.4" y2="160.85" stroke="#111" stroke-width="1.2"/>
<line x1="388.4" y1="156.13" x2="391.0" y2="156.13" stroke="#111" stroke-width="1.2"/>
<line x1="653.0" y1="156.13" x2="650.4" y2="156.13" stroke="#111" stroke-width="1.2"/>
<line x1="388.4" y1="124.08" x2="391.0" y2="124.08" stroke="#111" stroke-width="1.2"/>
<line x1="653.0" y1="124.08" x2="650.4" y2="124.08" stroke="#111" stroke-width="1.2"/>
<line x1="388.4" y1="107.81" x2="391.0" y2="107.81" stroke="#111" stroke-width="1.2"/>
<line x1="653.0" y1="107.81" x2="650.4" y2="107.81" stroke="#111" stroke-width="1.2"/>
<line x1="388.4" y1="96.27" x2="391.0" y2="96.27" stroke="#111" stroke-width="1.2"/>
<line x1="653.0" y1="96.27" x2="650.4" y2="96.27" stroke="#111" stroke-width="1.2"/>
<line x1="388.4" y1="87.32" x2="391.0" y2="87.32" stroke="#111" stroke-width="1.2"/>
<line x1="653.0" y1="87.32" x2="650.4" y2="87.32" stroke="#111" stroke-width="1.2"/>
<line x1="388.4" y1="80.00" x2="391.0" y2="80.00" stroke="#111" stroke-width="1.2"/>
<line x1="653.0" y1="80.00" x2="650.4" y2="80.00" stroke="#111" stroke-width="1.2"/>
<line x1="388.4" y1="73.81" x2="391.0" y2="73.81" stroke="#111" stroke-width="1.2"/>
<line x1="653.0" y1="73.81" x2="650.4" y2="73.81" stroke="#111" stroke-width="1.2"/>
<line x1="388.4" y1="68.45" x2="391.0" y2="68.45" stroke="#111" stroke-width="1.2"/>
<line x1="653.0" y1="68.45" x2="650.4" y2="68.45" stroke="#111" stroke-width="1.2"/>
<line x1="388.4" y1="63.73" x2="391.0" y2="63.73" stroke="#111" stroke-width="1.2"/>
<line x1="653.0" y1="63.73" x2="650.4" y2="63.73" stroke="#111" stroke-width="1.2"/>
<line x1="388.4" y1="31.68" x2="391.0" y2="31.68" stroke="#111" stroke-width="1.2"/>
<line x1="653.0" y1="31.68" x2="650.4" y2="31.68" stroke="#111" stroke-width="1.2"/>
<text x="371.90" y="66.90" style="font-family:'Liberation Serif',serif;font-size:19.5px" text-anchor="end">10</text>
<text x="372.00" y="57.10" style="font-family:'Liberation Serif',serif;font-size:11.8px">14</text>
<text x="371.90" y="159.30" style="font-family:'Liberation Serif',serif;font-size:19.5px" text-anchor="end">10</text>
<text x="372.00" y="149.50" style="font-family:'Liberation Serif',serif;font-size:11.8px">13</text>
<text x="406.90" y="207.8" style="font-family:'Liberation Serif',serif;font-size:19.5px" text-anchor="middle" >0</text>
<text x="444.73" y="207.8" style="font-family:'Liberation Serif',serif;font-size:19.5px" text-anchor="middle" >50</text>
<text x="482.57" y="207.8" style="font-family:'Liberation Serif',serif;font-size:19.5px" text-anchor="middle" >100</text>
<text x="520.40" y="207.8" style="font-family:'Liberation Serif',serif;font-size:19.5px" text-anchor="middle" >150</text>
<text x="558.23" y="207.8" style="font-family:'Liberation Serif',serif;font-size:19.5px" text-anchor="middle" >200</text>
<text x="596.07" y="207.8" style="font-family:'Liberation Serif',serif;font-size:19.5px" text-anchor="middle" >250</text>
<text x="633.90" y="207.8" style="font-family:'Liberation Serif',serif;font-size:19.5px" text-anchor="middle" >300</text>
<text x="446.6" y="230.3" style="font-family:'Liberation Sans',sans-serif;font-size:21.9px" textLength="156.3" lengthAdjust="spacingAndGlyphs">Temperature (K)</text>
<g transform="translate(351,140.3) rotate(-90)"><text x="0" y="0" style="font-family:'Liberation Sans',sans-serif;font-size:21.5px" textLength="78.6" lengthAdjust="spacingAndGlyphs"><tspan font-style="italic">n</tspan><tspan style="font-size:13px;font-style:italic" dy="7.3">s</tspan><tspan dy="-7.3"> (cm</tspan><tspan style="font-size:12.5px" dy="-7.3">-2</tspan><tspan dy="7.3">)</tspan></text></g>
<polyline points="440.5,179.0 504.3,154.0 537.2,150.2 569.1,147.2 601.8,145.7 633.9,148.2" fill="none" stroke="#2a40a8" stroke-width="1.5" stroke-linejoin="round" stroke-linecap="butt"/>
<polygon points="437.40,177.23 443.60,177.23 440.50,182.53" fill="#2a40a8"/>
<polygon points="501.20,152.23 507.40,152.23 504.30,157.53" fill="#2a40a8"/>
<polygon points="534.10,148.43 540.30,148.43 537.20,153.73" fill="#2a40a8"/>
<polygon points="566.00,145.43 572.20,145.43 569.10,150.73" fill="#2a40a8"/>
<polygon points="598.70,143.93 604.90,143.93 601.80,149.23" fill="#2a40a8"/>
<polygon points="630.80,146.43 637.00,146.43 633.90,151.73" fill="#2a40a8"/>
<polyline points="408.4,112.6 436.5,86.6 464.7,61.8 493.4,52.0 521.0,46.0 549.2,41.7 577.3,39.5 606.1,37.5 634.0,36.3" fill="none" stroke="#e8281f" stroke-width="1.5" stroke-linejoin="round" stroke-linecap="butt"/>
<rect x="406.05" y="110.25" width="4.7" height="4.7" fill="#e8281f"/>
<rect x="434.15" y="84.25" width="4.7" height="4.7" fill="#e8281f"/>
<rect x="462.35" y="59.45" width="4.7" height="4.7" fill="#e8281f"/>
<rect x="491.05" y="49.65" width="4.7" height="4.7" fill="#e8281f"/>
<rect x="518.65" y="43.65" width="4.7" height="4.7" fill="#e8281f"/>
<rect x="546.85" y="39.35" width="4.7" height="4.7" fill="#e8281f"/>
<rect x="574.95" y="37.15" width="4.7" height="4.7" fill="#e8281f"/>
<rect x="603.75" y="35.15" width="4.7" height="4.7" fill="#e8281f"/>
<rect x="631.65" y="33.95" width="4.7" height="4.7" fill="#e8281f"/>
<polyline points="408.4,110.4 440.0,83.4 472.4,61.8 504.7,54.9 536.9,51.0 569.3,49.4 601.3,48.8 634.0,47.3" fill="none" stroke="#8fd11c" stroke-width="1.5" stroke-linejoin="round" stroke-linecap="butt"/>
<circle cx="408.40" cy="110.40" r="2.5" fill="#8fd11c"/>
<circle cx="440.00" cy="83.40" r="2.5" fill="#8fd11c"/>
<circle cx="472.40" cy="61.80" r="2.5" fill="#8fd11c"/>
<circle cx="504.70" cy="54.90" r="2.5" fill="#8fd11c"/>
<circle cx="536.90" cy="51.00" r="2.5" fill="#8fd11c"/>
<circle cx="569.30" cy="49.40" r="2.5" fill="#8fd11c"/>
<circle cx="601.30" cy="48.80" r="2.5" fill="#8fd11c"/>
<circle cx="634.00" cy="47.30" r="2.5" fill="#8fd11c"/>
<polyline points="408.4,101.2 440.0,91.5 472.4,80.7 504.7,79.2 536.9,79.2 569.1,79.6 601.3,79.2 634.0,74.8" fill="none" stroke="#fcc12a" stroke-width="1.5" stroke-linejoin="round" stroke-linecap="butt"/>
<polygon points="405.30,102.97 411.50,102.97 408.40,97.67" fill="#fcc12a"/>
<polygon points="436.90,93.27 443.10,93.27 440.00,87.97" fill="#fcc12a"/>
<polygon points="469.30,82.47 475.50,82.47 472.40,77.17" fill="#fcc12a"/>
<polygon points="501.60,80.97 507.80,80.97 504.70,75.67" fill="#fcc12a"/>
<polygon points="533.80,80.97 540.00,80.97 536.90,75.67" fill="#fcc12a"/>
<polygon points="566.00,81.37 572.20,81.37 569.10,76.07" fill="#fcc12a"/>
<polygon points="598.20,80.97 604.40,80.97 601.30,75.67" fill="#fcc12a"/>
<polygon points="630.90,76.57 637.10,76.57 634.00,71.27" fill="#fcc12a"/>
<line x1="440.5" y1="108.4" x2="472.5" y2="108.4" stroke="#e8281f" stroke-width="1.5"/>
<rect x="454.25" y="106.05" width="4.7" height="4.7" fill="#e8281f"/>
<text x="479.5" y="113.15" style="font-family:'Liberation Sans',sans-serif;font-size:13.6px" text-anchor="start" >12 nm</text>
<line x1="528.8" y1="108.4" x2="560.6" y2="108.4" stroke="#fcc12a" stroke-width="1.5"/>
<polygon points="541.40,110.17 547.60,110.17 544.50,104.87" fill="#fcc12a"/>
<text x="567.6" y="114.05" style="font-family:'Liberation Sans',sans-serif;font-size:13.6px" text-anchor="start" >1.6 nm</text>
<line x1="441.3" y1="126.3" x2="472.5" y2="126.3" stroke="#8fd11c" stroke-width="1.5"/>
<circle cx="456.90" cy="126.30" r="2.5" fill="#8fd11c"/>
<text x="479.5" y="131.05" style="font-family:'Liberation Sans',sans-serif;font-size:13.6px" text-anchor="start" >2 nm</text>
<line x1="528.9" y1="126.3" x2="560.8" y2="126.3" stroke="#2a40a8" stroke-width="1.5"/>
<polygon points="541.70,124.53 547.90,124.53 544.80,129.83" fill="#2a40a8"/>
<text x="567.8" y="131.65" style="font-family:'Liberation Sans',sans-serif;font-size:13.6px" text-anchor="start" >1.4 nm</text>
<text transform="translate(3.4,252.3) scale(1.0,1)" style="font-family:'Liberation Sans',sans-serif;font-size:34px">c</text>
<rect x="60.0" y="247.8" width="264.30" height="166.50" fill="none" stroke="#111" stroke-width="1.5"/>
<line x1="69.70" y1="414.3" x2="69.70" y2="409.8" stroke="#111" stroke-width="1.3"/>
<line x1="69.70" y1="247.8" x2="69.70" y2="252.3" stroke="#111" stroke-width="1.3"/>
<line x1="108.95" y1="414.3" x2="108.95" y2="409.8" stroke="#111" stroke-width="1.3"/>
<line x1="108.95" y1="247.8" x2="108.95" y2="252.3" stroke="#111" stroke-width="1.3"/>
<line x1="148.20" y1="414.3" x2="148.20" y2="409.8" stroke="#111" stroke-width="1.3"/>
<line x1="148.20" y1="247.8" x2="148.20" y2="252.3" stroke="#111" stroke-width="1.3"/>
<line x1="187.45" y1="414.3" x2="187.45" y2="409.8" stroke="#111" stroke-width="1.3"/>
<line x1="187.45" y1="247.8" x2="187.45" y2="252.3" stroke="#111" stroke-width="1.3"/>
<line x1="226.70" y1="414.3" x2="226.70" y2="409.8" stroke="#111" stroke-width="1.3"/>
<line x1="226.70" y1="247.8" x2="226.70" y2="252.3" stroke="#111" stroke-width="1.3"/>
<line x1="265.95" y1="414.3" x2="265.95" y2="409.8" stroke="#111" stroke-width="1.3"/>
<line x1="265.95" y1="247.8" x2="265.95" y2="252.3" stroke="#111" stroke-width="1.3"/>
<line x1="305.20" y1="414.3" x2="305.20" y2="409.8" stroke="#111" stroke-width="1.3"/>
<line x1="305.20" y1="247.8" x2="305.20" y2="252.3" stroke="#111" stroke-width="1.3"/>
<line x1="89.33" y1="414.3" x2="89.33" y2="411.8" stroke="#111" stroke-width="1.3"/>
<line x1="89.33" y1="247.8" x2="89.33" y2="250.3" stroke="#111" stroke-width="1.3"/>
<line x1="128.57" y1="414.3" x2="128.57" y2="411.8" stroke="#111" stroke-width="1.3"/>
<line x1="128.57" y1="247.8" x2="128.57" y2="250.3" stroke="#111" stroke-width="1.3"/>
<line x1="167.82" y1="414.3" x2="167.82" y2="411.8" stroke="#111" stroke-width="1.3"/>
<line x1="167.82" y1="247.8" x2="167.82" y2="250.3" stroke="#111" stroke-width="1.3"/>
<line x1="207.07" y1="414.3" x2="207.07" y2="411.8" stroke="#111" stroke-width="1.3"/>
<line x1="207.07" y1="247.8" x2="207.07" y2="250.3" stroke="#111" stroke-width="1.3"/>
<line x1="246.32" y1="414.3" x2="246.32" y2="411.8" stroke="#111" stroke-width="1.3"/>
<line x1="246.32" y1="247.8" x2="246.32" y2="250.3" stroke="#111" stroke-width="1.3"/>
<line x1="285.57" y1="414.3" x2="285.57" y2="411.8" stroke="#111" stroke-width="1.3"/>
<line x1="285.57" y1="247.8" x2="285.57" y2="250.3" stroke="#111" stroke-width="1.3"/>
<line x1="60.0" y1="391.20" x2="64.5" y2="391.20" stroke="#111" stroke-width="1.2"/>
<line x1="324.3" y1="391.20" x2="319.8" y2="391.20" stroke="#111" stroke-width="1.2"/>
<line x1="60.0" y1="365.15" x2="64.5" y2="365.15" stroke="#111" stroke-width="1.2"/>
<line x1="324.3" y1="365.15" x2="319.8" y2="365.15" stroke="#111" stroke-width="1.2"/>
<line x1="60.0" y1="339.10" x2="64.5" y2="339.10" stroke="#111" stroke-width="1.2"/>
<line x1="324.3" y1="339.10" x2="319.8" y2="339.10" stroke="#111" stroke-width="1.2"/>
<line x1="60.0" y1="313.05" x2="64.5" y2="313.05" stroke="#111" stroke-width="1.2"/>
<line x1="324.3" y1="313.05" x2="319.8" y2="313.05" stroke="#111" stroke-width="1.2"/>
<line x1="60.0" y1="287.00" x2="64.5" y2="287.00" stroke="#111" stroke-width="1.2"/>
<line x1="324.3" y1="287.00" x2="319.8" y2="287.00" stroke="#111" stroke-width="1.2"/>
<line x1="60.0" y1="409.41" x2="62.3" y2="409.41" stroke="#111" stroke-width="1.2"/>
<line x1="324.3" y1="409.41" x2="322.0" y2="409.41" stroke="#111" stroke-width="1.2"/>
<line x1="60.0" y1="404.82" x2="62.3" y2="404.82" stroke="#111" stroke-width="1.2"/>
<line x1="324.3" y1="404.82" x2="322.0" y2="404.82" stroke="#111" stroke-width="1.2"/>
<line x1="60.0" y1="401.57" x2="62.3" y2="401.57" stroke="#111" stroke-width="1.2"/>
<line x1="324.3" y1="401.57" x2="322.0" y2="401.57" stroke="#111" stroke-width="1.2"/>
<line x1="60.0" y1="399.04" x2="62.3" y2="399.04" stroke="#111" stroke-width="1.2"/>
<line x1="324.3" y1="399.04" x2="322.0" y2="399.04" stroke="#111" stroke-width="1.2"/>
<line x1="60.0" y1="396.98" x2="62.3" y2="396.98" stroke="#111" stroke-width="1.2"/>
<line x1="324.3" y1="396.98" x2="322.0" y2="396.98" stroke="#111" stroke-width="1.2"/>
<line x1="60.0" y1="395.24" x2="62.3" y2="395.24" stroke="#111" stroke-width="1.2"/>
<line x1="324.3" y1="395.24" x2="322.0" y2="395.24" stroke="#111" stroke-width="1.2"/>
<line x1="60.0" y1="393.72" x2="62.3" y2="393.72" stroke="#111" stroke-width="1.2"/>
<line x1="324.3" y1="393.72" x2="322.0" y2="393.72" stroke="#111" stroke-width="1.2"/>
<line x1="60.0" y1="392.39" x2="62.3" y2="392.39" stroke="#111" stroke-width="1.2"/>
<line x1="324.3" y1="392.39" x2="322.0" y2="392.39" stroke="#111" stroke-width="1.2"/>
<line x1="60.0" y1="383.36" x2="62.3" y2="383.36" stroke="#111" stroke-width="1.2"/>
<line x1="324.3" y1="383.36" x2="322.0" y2="383.36" stroke="#111" stroke-width="1.2"/>
<line x1="60.0" y1="378.77" x2="62.3" y2="378.77" stroke="#111" stroke-width="1.2"/>
<line x1="324.3" y1="378.77" x2="322.0" y2="378.77" stroke="#111" stroke-width="1.2"/>
<line x1="60.0" y1="375.52" x2="62.3" y2="375.52" stroke="#111" stroke-width="1.2"/>
<line x1="324.3" y1="375.52" x2="322.0" y2="375.52" stroke="#111" stroke-width="1.2"/>
<line x1="60.0" y1="372.99" x2="62.3" y2="372.99" stroke="#111" stroke-width="1.2"/>
<line x1="324.3" y1="372.99" x2="322.0" y2="372.99" stroke="#111" stroke-width="1.2"/>
<line x1="60.0" y1="370.93" x2="62.3" y2="370.93" stroke="#111" stroke-width="1.2"/>
<line x1="324.3" y1="370.93" x2="322.0" y2="370.93" stroke="#111" stroke-width="1.2"/>
<line x1="60.0" y1="369.19" x2="62.3" y2="369.19" stroke="#111" stroke-width="1.2"/>
<line x1="324.3" y1="369.19" x2="322.0" y2="369.19" stroke="#111" stroke-width="1.2"/>
<line x1="60.0" y1="367.67" x2="62.3" y2="367.67" stroke="#111" stroke-width="1.2"/>
<line x1="324.3" y1="367.67" x2="322.0" y2="367.67" stroke="#111" stroke-width="1.2"/>
<line x1="60.0" y1="366.34" x2="62.3" y2="366.34" stroke="#111" stroke-width="1.2"/>
<line x1="324.3" y1="366.34" x2="322.0" y2="366.34" stroke="#111" stroke-width="1.2"/>
<line x1="60.0" y1="357.31" x2="62.3" y2="357.31" stroke="#111" stroke-width="1.2"/>
<line x1="324.3" y1="357.31" x2="322.0" y2="357.31" stroke="#111" stroke-width="1.2"/>
<line x1="60.0" y1="352.72" x2="62.3" y2="352.72" stroke="#111" stroke-width="1.2"/>
<line x1="324.3" y1="352.72" x2="322.0" y2="352.72" stroke="#111" stroke-width="1.2"/>
<line x1="60.0" y1="349.47" x2="62.3" y2="349.47" stroke="#111" stroke-width="1.2"/>
<line x1="324.3" y1="349.47" x2="322.0" y2="349.47" stroke="#111" stroke-width="1.2"/>
<line x1="60.0" y1="346.94" x2="62.3" y2="346.94" stroke="#111" stroke-width="1.2"/>
<line x1="324.3" y1="346.94" x2="322.0" y2="346.94" stroke="#111" stroke-width="1.2"/>
<line x1="60.0" y1="344.88" x2="62.3" y2="344.88" stroke="#111" stroke-width="1.2"/>
<line x1="324.3" y1="344.88" x2="322.0" y2="344.88" stroke="#111" stroke-width="1.2"/>
<line x1="60.0" y1="343.14" x2="62.3" y2="343.14" stroke="#111" stroke-width="1.2"/>
<line x1="324.3" y1="343.14" x2="322.0" y2="343.14" stroke="#111" stroke-width="1.2"/>
<line x1="60.0" y1="341.62" x2="62.3" y2="341.62" stroke="#111" stroke-width="1.2"/>
<line x1="324.3" y1="341.62" x2="322.0" y2="341.62" stroke="#111" stroke-width="1.2"/>
<line x1="60.0" y1="340.29" x2="62.3" y2="340.29" stroke="#111" stroke-width="1.2"/>
<line x1="324.3" y1="340.29" x2="322.0" y2="340.29" stroke="#111" stroke-width="1.2"/>
<line x1="60.0" y1="331.26" x2="62.3" y2="331.26" stroke="#111" stroke-width="1.2"/>
<line x1="324.3" y1="331.26" x2="322.0" y2="331.26" stroke="#111" stroke-width="1.2"/>
<line x1="60.0" y1="326.67" x2="62.3" y2="326.67" stroke="#111" stroke-width="1.2"/>
<line x1="324.3" y1="326.67" x2="322.0" y2="326.67" stroke="#111" stroke-width="1.2"/>
<line x1="60.0" y1="323.42" x2="62.3" y2="323.42" stroke="#111" stroke-width="1.2"/>
<line x1="324.3" y1="323.42" x2="322.0" y2="323.42" stroke="#111" stroke-width="1.2"/>
<line x1="60.0" y1="320.89" x2="62.3" y2="320.89" stroke="#111" stroke-width="1.2"/>
<line x1="324.3" y1="320.89" x2="322.0" y2="320.89" stroke="#111" stroke-width="1.2"/>
<line x1="60.0" y1="318.83" x2="62.3" y2="318.83" stroke="#111" stroke-width="1.2"/>
<line x1="324.3" y1="318.83" x2="322.0" y2="318.83" stroke="#111" stroke-width="1.2"/>
<line x1="60.0" y1="317.09" x2="62.3" y2="317.09" stroke="#111" stroke-width="1.2"/>
<line x1="324.3" y1="317.09" x2="322.0" y2="317.09" stroke="#111" stroke-width="1.2"/>
<line x1="60.0" y1="315.57" x2="62.3" y2="315.57" stroke="#111" stroke-width="1.2"/>
<line x1="324.3" y1="315.57" x2="322.0" y2="315.57" stroke="#111" stroke-width="1.2"/>
<line x1="60.0" y1="314.24" x2="62.3" y2="314.24" stroke="#111" stroke-width="1.2"/>
<line x1="324.3" y1="314.24" x2="322.0" y2="314.24" stroke="#111" stroke-width="1.2"/>
<line x1="60.0" y1="305.21" x2="62.3" y2="305.21" stroke="#111" stroke-width="1.2"/>
<line x1="324.3" y1="305.21" x2="322.0" y2="305.21" stroke="#111" stroke-width="1.2"/>
<line x1="60.0" y1="300.62" x2="62.3" y2="300.62" stroke="#111" stroke-width="1.2"/>
<line x1="324.3" y1="300.62" x2="322.0" y2="300.62" stroke="#111" stroke-width="1.2"/>
<line x1="60.0" y1="297.37" x2="62.3" y2="297.37" stroke="#111" stroke-width="1.2"/>
<line x1="324.3" y1="297.37" x2="322.0" y2="297.37" stroke="#111" stroke-width="1.2"/>
<line x1="60.0" y1="294.84" x2="62.3" y2="294.84" stroke="#111" stroke-width="1.2"/>
<line x1="324.3" y1="294.84" x2="322.0" y2="294.84" stroke="#111" stroke-width="1.2"/>
<line x1="60.0" y1="292.78" x2="62.3" y2="292.78" stroke="#111" stroke-width="1.2"/>
<line x1="324.3" y1="292.78" x2="322.0" y2="292.78" stroke="#111" stroke-width="1.2"/>
<line x1="60.0" y1="291.04" x2="62.3" y2="291.04" stroke="#111" stroke-width="1.2"/>
<line x1="324.3" y1="291.04" x2="322.0" y2="291.04" stroke="#111" stroke-width="1.2"/>
<line x1="60.0" y1="289.52" x2="62.3" y2="289.52" stroke="#111" stroke-width="1.2"/>
<line x1="324.3" y1="289.52" x2="322.0" y2="289.52" stroke="#111" stroke-width="1.2"/>
<line x1="60.0" y1="288.19" x2="62.3" y2="288.19" stroke="#111" stroke-width="1.2"/>
<line x1="324.3" y1="288.19" x2="322.0" y2="288.19" stroke="#111" stroke-width="1.2"/>
<line x1="60.0" y1="279.16" x2="62.3" y2="279.16" stroke="#111" stroke-width="1.2"/>
<line x1="324.3" y1="279.16" x2="322.0" y2="279.16" stroke="#111" stroke-width="1.2"/>
<text x="49.30" y="398.10" style="font-family:'Liberation Serif',serif;font-size:19.5px" text-anchor="end">10</text>
<text x="50.30" y="388.60" style="font-family:'Liberation Serif',serif;font-size:11px">4</text>
<text x="49.30" y="372.05" style="font-family:'Liberation Serif',serif;font-size:19.5px" text-anchor="end">10</text>
<text x="50.30" y="362.55" style="font-family:'Liberation Serif',serif;font-size:11px">5</text>
<text x="49.30" y="346.00" style="font-family:'Liberation Serif',serif;font-size:19.5px" text-anchor="end">10</text>
<text x="50.30" y="336.50" style="font-family:'Liberation Serif',serif;font-size:11px">6</text>
<text x="49.30" y="319.95" style="font-family:'Liberation Serif',serif;font-size:19.5px" text-anchor="end">10</text>
<text x="50.30" y="310.45" style="font-family:'Liberation Serif',serif;font-size:11px">7</text>
<text x="49.30" y="293.90" style="font-family:'Liberation Serif',serif;font-size:19.5px" text-anchor="end">10</text>
<text x="50.30" y="284.40" style="font-family:'Liberation Serif',serif;font-size:11px">8</text>
<text x="69.70" y="434.6" style="font-family:'Liberation Serif',serif;font-size:20px" text-anchor="middle" >0</text>
<text x="108.95" y="434.6" style="font-family:'Liberation Serif',serif;font-size:20px" text-anchor="middle" >2</text>
<text x="148.20" y="434.6" style="font-family:'Liberation Serif',serif;font-size:20px" text-anchor="middle" >4</text>
<text x="187.45" y="434.6" style="font-family:'Liberation Serif',serif;font-size:20px" text-anchor="middle" >6</text>
<text x="226.70" y="434.6" style="font-family:'Liberation Serif',serif;font-size:20px" text-anchor="middle" >8</text>
<text x="265.95" y="434.6" style="font-family:'Liberation Serif',serif;font-size:20px" text-anchor="middle" >10</text>
<text x="305.20" y="434.6" style="font-family:'Liberation Serif',serif;font-size:20px" text-anchor="middle" >12</text>
<text x="94.6" y="453.8" style="font-family:'Liberation Sans',sans-serif;font-size:21.2px" textLength="190.0" lengthAdjust="spacingAndGlyphs">Film thickness (nm)</text>
<g transform="translate(25.1,369.0) rotate(-90)"><text x="0" y="0" style="font-family:'Liberation Sans',sans-serif;font-size:21.3px" textLength="63.2" lengthAdjust="spacingAndGlyphs"><tspan font-style="italic">R</tspan> (kΩ/</text><text x="79.5" y="0" style="font-family:'Liberation Sans',sans-serif;font-size:21.5px">)</text></g>
<rect x="12.0" y="293.2" width="13.2" height="10.8" fill="none" stroke="#8a8a8a" stroke-width="1.1"/>
<line x1="58.15" y1="260.2" x2="323.5" y2="260.2" stroke="#111" stroke-width="1.4" stroke-dasharray="6,4.85"/>
<text x="133.0" y="278.0" style="font-family:'Liberation Sans',sans-serif;font-size:16px" textLength="133.5" lengthAdjust="spacingAndGlyphs">measurement limit</text>
<polygon points="58.0,268.6 62.0,269.8 62.0,271.6 58.0,270.4" fill="#fff"/>
<line x1="54.8" y1="268.2" x2="64.4" y2="271.2" stroke="#111" stroke-width="1.4"/>
<line x1="54.8" y1="271.5" x2="64.4" y2="274.5" stroke="#111" stroke-width="1.4"/>
<polygon points="322.3,268.6 326.3,269.8 326.3,271.6 322.3,270.4" fill="#fff"/>
<line x1="319.1" y1="268.2" x2="328.7" y2="271.2" stroke="#111" stroke-width="1.4"/>
<line x1="319.1" y1="271.5" x2="328.7" y2="274.5" stroke="#111" stroke-width="1.4"/>
<line x1="85.4" y1="250.8" x2="85.4" y2="413.5" stroke="#e8363f" stroke-width="1.6" stroke-dasharray="5.6,5.1"/>
<polyline points="85.5,261.2 89.1,318.5 93.2,356.8 97.2,366.6 100.7,378.5 109.1,386.3 305.0,395.3" fill="none" stroke="#6ecb14" stroke-width="1.7" stroke-linejoin="round" stroke-linecap="butt"/>
<polygon points="64.20,264.20 75.40,264.20 69.80,254.60" fill="none" stroke="#6ecb14" stroke-width="1.9" stroke-linejoin="miter"/>
<polygon points="75.70,264.20 86.90,264.20 81.30,254.60" fill="none" stroke="#6ecb14" stroke-width="1.9" stroke-linejoin="miter"/>
<polygon points="79.90,264.40 91.10,264.40 85.50,254.80" fill="none" stroke="#6ecb14" stroke-width="1.9" stroke-linejoin="miter"/>
<polygon points="83.50,321.70 94.70,321.70 89.10,312.10" fill="none" stroke="#6ecb14" stroke-width="1.9" stroke-linejoin="miter"/>
<polygon points="87.60,360.00 98.80,360.00 93.20,350.40" fill="none" stroke="#6ecb14" stroke-width="1.9" stroke-linejoin="miter"/>
<polygon points="91.60,369.80 102.80,369.80 97.20,360.20" fill="none" stroke="#6ecb14" stroke-width="1.9" stroke-linejoin="miter"/>
<polygon points="95.10,381.70 106.30,381.70 100.70,372.10" fill="none" stroke="#6ecb14" stroke-width="1.9" stroke-linejoin="miter"/>
<polygon points="103.50,389.50 114.70,389.50 109.10,379.90" fill="none" stroke="#6ecb14" stroke-width="1.9" stroke-linejoin="miter"/>
<polygon points="299.40,398.50 310.60,398.50 305.00,388.90" fill="none" stroke="#6ecb14" stroke-width="1.9" stroke-linejoin="miter"/>
<text x="93.7" y="405.5" style="font-family:'Liberation Serif',serif;font-size:18.5px;font-style:italic">t</text>
<text x="98.4" y="411.5" style="font-family:'Liberation Serif',serif;font-size:12.5px;font-style:italic">c</text>
<text transform="translate(341.2,254.2) scale(1.0,1)" style="font-family:'Liberation Sans',sans-serif;font-size:31.2px">d</text>
<rect x="391.7" y="247.6" width="264.10" height="166.80" fill="none" stroke="#111" stroke-width="1.5"/>
<line x1="401.40" y1="414.4" x2="401.40" y2="409.9" stroke="#111" stroke-width="1.3"/>
<line x1="401.40" y1="247.6" x2="401.40" y2="252.1" stroke="#111" stroke-width="1.3"/>
<line x1="440.58" y1="414.4" x2="440.58" y2="409.9" stroke="#111" stroke-width="1.3"/>
<line x1="440.58" y1="247.6" x2="440.58" y2="252.1" stroke="#111" stroke-width="1.3"/>
<line x1="479.77" y1="414.4" x2="479.77" y2="409.9" stroke="#111" stroke-width="1.3"/>
<line x1="479.77" y1="247.6" x2="479.77" y2="252.1" stroke="#111" stroke-width="1.3"/>
<line x1="518.95" y1="414.4" x2="518.95" y2="409.9" stroke="#111" stroke-width="1.3"/>
<line x1="518.95" y1="247.6" x2="518.95" y2="252.1" stroke="#111" stroke-width="1.3"/>
<line x1="558.13" y1="414.4" x2="558.13" y2="409.9" stroke="#111" stroke-width="1.3"/>
<line x1="558.13" y1="247.6" x2="558.13" y2="252.1" stroke="#111" stroke-width="1.3"/>
<line x1="597.32" y1="414.4" x2="597.32" y2="409.9" stroke="#111" stroke-width="1.3"/>
<line x1="597.32" y1="247.6" x2="597.32" y2="252.1" stroke="#111" stroke-width="1.3"/>
<line x1="636.50" y1="414.4" x2="636.50" y2="409.9" stroke="#111" stroke-width="1.3"/>
<line x1="636.50" y1="247.6" x2="636.50" y2="252.1" stroke="#111" stroke-width="1.3"/>
<line x1="420.99" y1="414.4" x2="420.99" y2="411.9" stroke="#111" stroke-width="1.3"/>
<line x1="420.99" y1="247.6" x2="420.99" y2="250.1" stroke="#111" stroke-width="1.3"/>
<line x1="460.17" y1="414.4" x2="460.17" y2="411.9" stroke="#111" stroke-width="1.3"/>
<line x1="460.17" y1="247.6" x2="460.17" y2="250.1" stroke="#111" stroke-width="1.3"/>
<line x1="499.36" y1="414.4" x2="499.36" y2="411.9" stroke="#111" stroke-width="1.3"/>
<line x1="499.36" y1="247.6" x2="499.36" y2="250.1" stroke="#111" stroke-width="1.3"/>
<line x1="538.54" y1="414.4" x2="538.54" y2="411.9" stroke="#111" stroke-width="1.3"/>
<line x1="538.54" y1="247.6" x2="538.54" y2="250.1" stroke="#111" stroke-width="1.3"/>
<line x1="577.73" y1="414.4" x2="577.73" y2="411.9" stroke="#111" stroke-width="1.3"/>
<line x1="577.73" y1="247.6" x2="577.73" y2="250.1" stroke="#111" stroke-width="1.3"/>
<line x1="616.91" y1="414.4" x2="616.91" y2="411.9" stroke="#111" stroke-width="1.3"/>
<line x1="616.91" y1="247.6" x2="616.91" y2="250.1" stroke="#111" stroke-width="1.3"/>
<line x1="391.7" y1="404.60" x2="396.3" y2="404.60" stroke="#111" stroke-width="1.2"/>
<line x1="655.8" y1="404.60" x2="651.1999999999999" y2="404.60" stroke="#111" stroke-width="1.2"/>
<line x1="391.7" y1="375.20" x2="396.3" y2="375.20" stroke="#111" stroke-width="1.2"/>
<line x1="655.8" y1="375.20" x2="651.1999999999999" y2="375.20" stroke="#111" stroke-width="1.2"/>
<line x1="391.7" y1="345.80" x2="396.3" y2="345.80" stroke="#111" stroke-width="1.2"/>
<line x1="655.8" y1="345.80" x2="651.1999999999999" y2="345.80" stroke="#111" stroke-width="1.2"/>
<line x1="391.7" y1="316.40" x2="396.3" y2="316.40" stroke="#111" stroke-width="1.2"/>
<line x1="655.8" y1="316.40" x2="651.1999999999999" y2="316.40" stroke="#111" stroke-width="1.2"/>
<line x1="391.7" y1="287.00" x2="396.3" y2="287.00" stroke="#111" stroke-width="1.2"/>
<line x1="655.8" y1="287.00" x2="651.1999999999999" y2="287.00" stroke="#111" stroke-width="1.2"/>
<line x1="391.7" y1="257.60" x2="396.3" y2="257.60" stroke="#111" stroke-width="1.2"/>
<line x1="655.8" y1="257.60" x2="651.1999999999999" y2="257.60" stroke="#111" stroke-width="1.2"/>
<line x1="391.7" y1="389.90" x2="394.3" y2="389.90" stroke="#111" stroke-width="1.2"/>
<line x1="655.8" y1="389.90" x2="653.1999999999999" y2="389.90" stroke="#111" stroke-width="1.2"/>
<line x1="391.7" y1="360.50" x2="394.3" y2="360.50" stroke="#111" stroke-width="1.2"/>
<line x1="655.8" y1="360.50" x2="653.1999999999999" y2="360.50" stroke="#111" stroke-width="1.2"/>
<line x1="391.7" y1="331.10" x2="394.3" y2="331.10" stroke="#111" stroke-width="1.2"/>
<line x1="655.8" y1="331.10" x2="653.1999999999999" y2="331.10" stroke="#111" stroke-width="1.2"/>
<line x1="391.7" y1="301.70" x2="394.3" y2="301.70" stroke="#111" stroke-width="1.2"/>
<line x1="655.8" y1="301.70" x2="653.1999999999999" y2="301.70" stroke="#111" stroke-width="1.2"/>
<line x1="391.7" y1="272.30" x2="394.3" y2="272.30" stroke="#111" stroke-width="1.2"/>
<line x1="655.8" y1="272.30" x2="653.1999999999999" y2="272.30" stroke="#111" stroke-width="1.2"/>
<text x="386.6" y="411.20" style="font-family:'Liberation Serif',serif;font-size:20px" text-anchor="end" >0</text>
<text x="386.6" y="381.80" style="font-family:'Liberation Serif',serif;font-size:20px" text-anchor="end" >3</text>
<text x="386.6" y="352.40" style="font-family:'Liberation Serif',serif;font-size:20px" text-anchor="end" >6</text>
<text x="386.6" y="323.00" style="font-family:'Liberation Serif',serif;font-size:20px" text-anchor="end" >9</text>
<text x="386.6" y="293.60" style="font-family:'Liberation Serif',serif;font-size:20px" text-anchor="end" >12</text>
<text x="386.6" y="264.20" style="font-family:'Liberation Serif',serif;font-size:20px" text-anchor="end" >15</text>
<text x="401.40" y="434.6" style="font-family:'Liberation Serif',serif;font-size:20px" text-anchor="middle" >0</text>
<text x="440.58" y="434.6" style="font-family:'Liberation Serif',serif;font-size:20px" text-anchor="middle" >2</text>
<text x="479.77" y="434.6" style="font-family:'Liberation Serif',serif;font-size:20px" text-anchor="middle" >4</text>
<text x="518.95" y="434.6" style="font-family:'Liberation Serif',serif;font-size:20px" text-anchor="middle" >6</text>
<text x="558.13" y="434.6" style="font-family:'Liberation Serif',serif;font-size:20px" text-anchor="middle" >8</text>
<text x="597.32" y="434.6" style="font-family:'Liberation Serif',serif;font-size:20px" text-anchor="middle" >10</text>
<text x="636.50" y="434.6" style="font-family:'Liberation Serif',serif;font-size:20px" text-anchor="middle" >12</text>
<text x="427.8" y="453.8" style="font-family:'Liberation Sans',sans-serif;font-size:21.2px" textLength="190.6" lengthAdjust="spacingAndGlyphs">Film thickness (nm)</text>
<g transform="translate(363.6,428.2) rotate(-90)"><text x="0" y="0" style="font-family:'Liberation Sans',sans-serif;font-size:21.5px" textLength="164.4" lengthAdjust="spacingAndGlyphs">T<tspan style="font-size:12.5px" dy="-8">3+</tspan><tspan dy="8">/(Ti</tspan><tspan style="font-size:12.5px" dy="-8">3+</tspan><tspan dy="8">+Ti</tspan><tspan style="font-size:12.5px" dy="-8">4+</tspan><tspan dy="8">) (%)</tspan></text></g>
<line x1="416.8" y1="249.8" x2="416.8" y2="413.59999999999997" stroke="#e8363f" stroke-width="1.6" stroke-dasharray="5.6,5.1"/>
<polyline points="401.4,404.6 412.2,364.9 417.0,359.4 424.7,337.9 440.3,279.9 636.6,268.0" fill="none" stroke="#6ecb14" stroke-width="1.7" stroke-linejoin="round" stroke-linecap="butt"/>
<polygon points="395.80,401.40 407.00,401.40 401.40,411.00" fill="none" stroke="#6ecb14" stroke-width="1.9" stroke-linejoin="miter"/>
<polygon points="406.60,361.70 417.80,361.70 412.20,371.30" fill="none" stroke="#6ecb14" stroke-width="1.9" stroke-linejoin="miter"/>
<polygon points="411.40,356.20 422.60,356.20 417.00,365.80" fill="none" stroke="#6ecb14" stroke-width="1.9" stroke-linejoin="miter"/>
<polygon points="419.10,334.70 430.30,334.70 424.70,344.30" fill="none" stroke="#6ecb14" stroke-width="1.9" stroke-linejoin="miter"/>
<polygon points="434.70,276.70 445.90,276.70 440.30,286.30" fill="none" stroke="#6ecb14" stroke-width="1.9" stroke-linejoin="miter"/>
<polygon points="631.00,264.80 642.20,264.80 636.60,274.40" fill="none" stroke="#6ecb14" stroke-width="1.9" stroke-linejoin="miter"/>
<text x="424.0" y="404.2" style="font-family:'Liberation Serif',serif;font-size:18.5px;font-style:italic">t</text>
<text x="428.7" y="410.2" style="font-family:'Liberation Serif',serif;font-size:12.5px;font-style:italic">c</text>
</svg>
</body></html>
